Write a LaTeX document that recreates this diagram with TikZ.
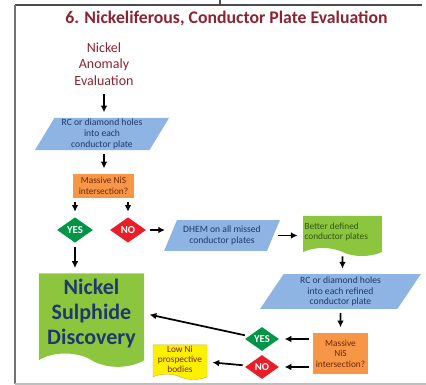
\documentclass[tikz,border=0pt]{standalone}
\usepackage{fontspec}
\setmainfont{Carlito}
\usetikzlibrary{shapes.geometric,shapes.symbols,arrows.meta}

\definecolor{titlered}{RGB}{140,35,50}
\definecolor{parblue}{RGB}{141,180,226}
\definecolor{partext}{RGB}{31,56,110}
\definecolor{queryorange}{RGB}{247,150,70}
\definecolor{querytext}{RGB}{110,40,10}
\definecolor{yesgreen}{RGB}{0,150,70}
\definecolor{nored}{RGB}{232,30,40}
\definecolor{docgreen}{RGB}{140,198,63}
\definecolor{doctext}{RGB}{50,85,20}
\definecolor{discoverytext}{RGB}{31,56,110}
\definecolor{lowyellow}{RGB}{255,240,0}

\begin{document}
\begin{tikzpicture}[x=0.75pt, y=-0.75pt,
    para box/.style={trapezium, trapezium left angle=62, trapezium right angle=118,
      trapezium stretches=true, fill=parblue, text=partext, align=center,
      inner sep=1pt, font=\fontsize{7.2}{8}\selectfont},
    query box/.style={rectangle, fill=queryorange, text=querytext, align=center,
      inner sep=1pt, font=\fontsize{7}{8}\selectfont},
    answer/.style={diamond, aspect=1.45, inner sep=0pt, text=white,
      font=\fontsize{8}{9}\selectfont\bfseries},
    yes diamond/.style={answer, fill=yesgreen},
    no diamond/.style={answer, fill=nored},
    doc box/.style={tape, tape bend top=none, tape bend bottom=out and in,
      tape bend height=6pt, inner sep=1pt},
    flow/.style={-{Latex[length=5pt,width=5pt]}, line width=1.3pt,
      shorten <=3pt, shorten >=4pt}]

  \useasboundingbox (0,0) rectangle (426,385);

  % frame
  \draw[line width=1.2pt, black!70] (15,5) -- (422,5);
  \draw[line width=0.8pt, black!70] (220,0) -- (220,5);
  \draw[line width=1.6pt, black!55] (15,5) -- (15,384);
  \draw[line width=0.8pt, black!25] (15,384) -- (426,384);

  \node[text=titlered, font=\fontsize{13.3}{15}\selectfont\bfseries] (title) at (226.5,18)
    {6. Nickeliferous, Conductor Plate Evaluation};

  \node[text=titlered, align=center, font=\fontsize{10.5}{12.5}\selectfont] (start) at (104,64)
    {Nickel\\Anomaly\\Evaluation};
  \node[para box, minimum width=101pt, minimum height=24pt] (plates) at (102,134)
    {RC or diamond holes\\into each\\conductor plate};
  \node[query box, minimum width=46pt, minimum height=18pt] (query) at (103.5,186)
    {Massive NiS\\intersection?};
  \node[yes diamond, minimum width=27pt, minimum height=19pt] (yes) at (75,230) {YES};
  \node[no diamond, minimum width=27pt, minimum height=19pt] (no) at (128,230) {NO};
  \node[para box, minimum width=87pt, minimum height=23pt] (dhem) at (222,235.5)
    {DHEM on all missed\\conductor plates};
  \node[doc box, fill=docgreen, text=doctext, align=flush left, text width=57pt,
    minimum height=30pt, font=\fontsize{7}{8}\selectfont] (defined) at (342.5,232)
    {Better defined\\conductor plates};
  \node[para box, minimum width=121pt, minimum height=26pt] (refined) at (340.5,291.5)
    {RC or diamond holes\\into each refined\\conductor plate};
  \node[query box, minimum width=41pt, minimum height=31pt] (requery) at (340.5,353.5)
    {Massive\\NiS\\intersection?};
  \node[yes diamond, minimum width=25.5pt, minimum height=18pt] (reyes) at (262,339) {YES};
  \node[no diamond, minimum width=25.5pt, minimum height=18pt] (reno) at (262,367) {NO};
  \node[doc box, fill=lowyellow, draw=yellow!70!black, line width=0.3pt, text=querytext,
    align=center, minimum width=40.5pt, minimum height=26pt, tape bend height=4pt,
    inner sep=0pt, font=\fontsize{7}{7.6}\selectfont] (lowni) at (180,359.5)
    {Low Ni\\prospective\\bodies};
  \node[doc box, fill=docgreen, text=discoverytext, align=center, minimum width=79pt,
    minimum height=70pt, tape bend height=10pt,
    font=\fontsize{16.5}{19}\selectfont\bfseries] (discovery) at (91.5,313.5)
    {Nickel\\Sulphide\\Discovery};

  \draw[flow] (start) -- (start |- plates.north);
  \draw[flow] (plates.south -| start) -- (start |- query.north);
  \draw[flow] (yes |- query.south) -- (yes);
  \draw[flow] (no |- query.south) -- (no);
  \draw[flow] (no) -- (no -| dhem.west);
  \draw[flow] (dhem.east) -- (dhem.east -| defined.west);
  \draw[flow] (defined) -- (defined |- refined.north);
  \draw[flow] (refined) -- (refined |- requery.north);
  \draw[flow] (requery.west |- reyes) -- (reyes);
  \draw[flow] (requery.west |- reno) -- (reno);
  \draw[flow] (reno) -- (lowni);
  \draw[flow] (reyes) -- (discovery.east);
  \draw[flow] (yes) -- (yes |- discovery.north);
\end{tikzpicture}
\end{document}
